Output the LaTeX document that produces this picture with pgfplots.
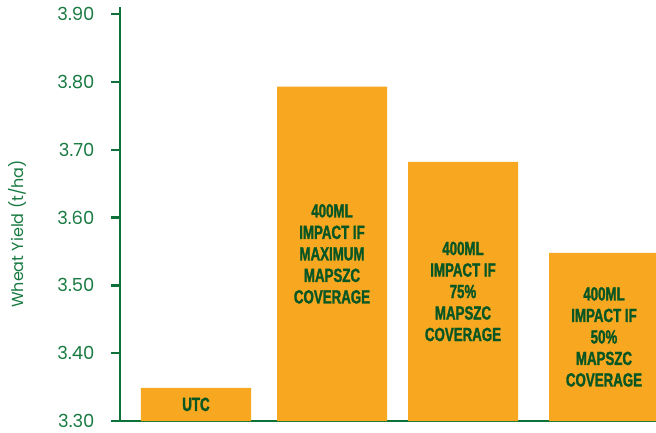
\documentclass[border=0pt]{standalone}
\usepackage{pgfplots}
\pgfplotsset{compat=1.18}
\usepackage{fontspec}
\setmainfont{Poppins}
\newfontfamily\barfont[FakeStretch=0.70,FakeBold=1.4]{Liberation Sans}
\definecolor{barorange}{RGB}{247,168,32}
\definecolor{axgreen}{RGB}{12,114,58}
\definecolor{txtgreen}{RGB}{25,122,66}
\definecolor{darkgreen}{RGB}{8,86,36}
\begin{document}
\begin{tikzpicture}
\begin{axis}[
  at={(0pt,0pt)}, anchor=origin,
  scale only axis,
  width=536pt, height=414pt,
  xmin=120, xmax=656,
  ymin=3.30, ymax=3.9106,
  axis x line=bottom,
  axis y line=left,
  axis line style={-, draw=axgreen, line width=2.6pt},
  xtick=\empty,
  ytick={3.3,3.4,3.5,3.6,3.7,3.8,3.9},
  yticklabel style={/pgf/number format/fixed, /pgf/number format/fixed zerofill, /pgf/number format/precision=2, /pgf/number format/assume math mode=true, font=\fontsize{18}{20}\selectfont, text=txtgreen, xshift=-13pt},
  tick align=outside,
  major tick length=9pt,
  ytick style={axgreen, line width=2.2pt},
  ylabel={Wheat Yield (t/ha)},
  ylabel style={font=\fontsize{16}{18}\selectfont, text=txtgreen, at={(axis description cs:-0.1922,0.452)}, anchor=center},
  clip=true,
]
\addplot[ybar, bar width=110, bar shift=0pt, fill=barorange, draw=none] coordinates {
  (196,3.349) (332,3.793) (463,3.682) (604,3.548)
};
\begin{scope}[every node/.style={font=\barfont\bfseries\fontsize{19}{21.5}\selectfont, text=darkgreen, align=center}]
\node at (axis cs:196,3.3245) {UTC};
\node at (axis cs:332,3.5465) {400ML\\IMPACT IF\\MAXIMUM\\MAPSZC\\COVERAGE};
\node at (axis cs:463,3.491) {400ML\\IMPACT IF\\75\%\\MAPSZC\\COVERAGE};
\node at (axis cs:604,3.424) {400ML\\IMPACT IF\\50\%\\MAPSZC\\COVERAGE};
\end{scope}
\coordinate (SW) at (axis cs:120,3.30);
\end{axis}
\foreach \t in {0,67.8,135.6,203.4,271.2,339.0,406.8}
  \draw[axgreen, line width=2.2pt] ([yshift=\t pt]SW) -- ++(-9pt,0pt);
\pgfresetboundingbox
\path ([shift={(-120pt,-11pt)}]SW) rectangle ([shift={(536pt,421pt)}]SW);
\end{tikzpicture}
\end{document}
